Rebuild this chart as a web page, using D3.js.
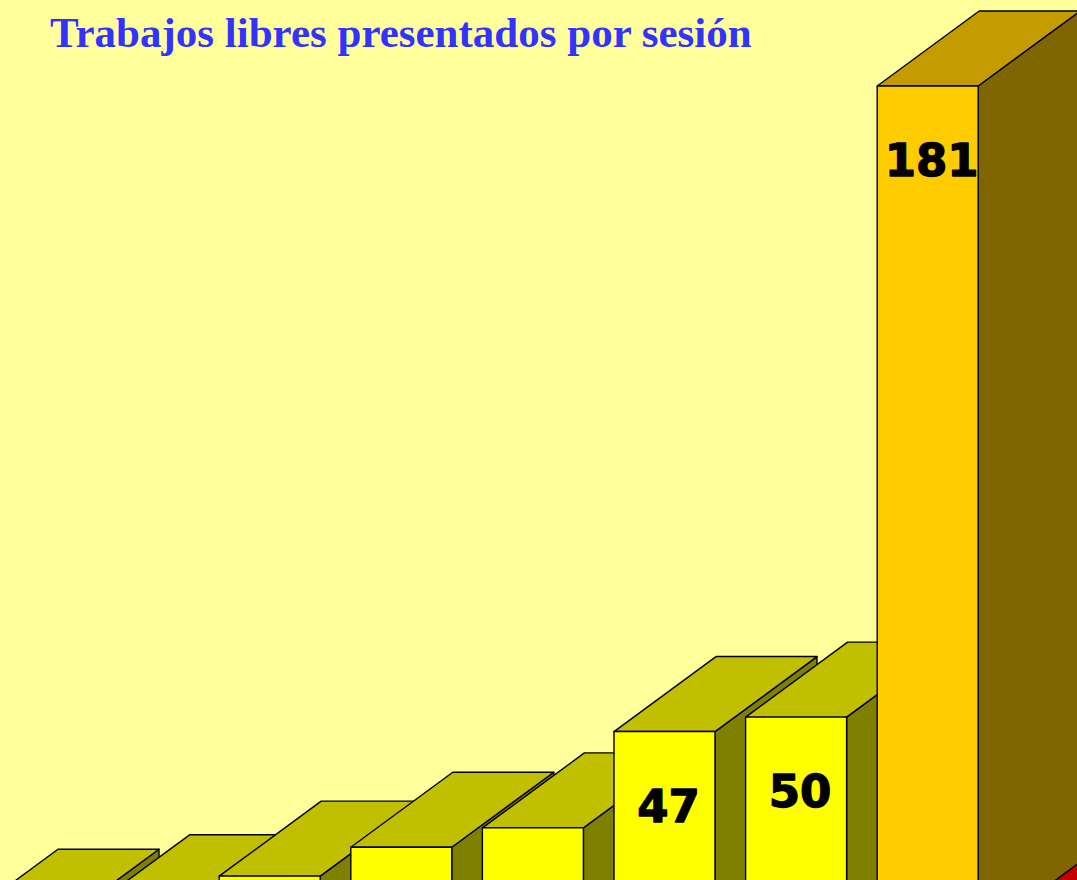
<!DOCTYPE html>
<html>
<head>
<meta charset="utf-8">
<script src="https://cdn.jsdelivr.net/npm/d3@7"></script>
<style>
  html, body { margin: 0; padding: 0; background: #FFFF9C; overflow: hidden; }
</style>
</head>
<body>
<div id="chart"></div>
<script>
// Data (bars are cut by the bottom edge).
const sessions = ["S1", "S2", "S3", "S4", "S5", "S6", "S7", "S8", "S9"];
const works = [7, 10, 17, 23, 27, 47, 50, 181, 9];
const titleText = "Trabajos libres presentados por sesión";

// Size of the page.
const width = 1077,
  height = 880;

// 3D depth offset of every bar.
const depth = { dx: 102, dy: -75 };

const svg = d3.select("#chart")
  .append("svg")
  .attr("width", width)
  .attr("height", height);

svg.append("rect")
  .attr("width", width)
  .attr("height", height)
  .attr("fill", "#FFFF9C");

// Scales.
const x = d3.scaleBand()
  .domain(sessions)
  .range([-59.3, -59.3 + sessions.length * 131.6])
  .paddingInner(30.6 / 131.6)
  .paddingOuter(15.3 / 131.6);

const y = d3.scaleLinear()
  .domain([0, 181])
  .range([958, 86]);

// Face colours: front, top, side.
const palette = {
  yellow: ["#FFFF00", "#C0C000", "#808000"],
  orange: ["#FFCC00", "#C49C00", "#806600"],
  red: ["#FF0000", "#C40000", "#800000"]
};
const barColor = d3.scaleOrdinal()
  .domain(sessions)
  .range(["yellow", "yellow", "yellow", "yellow", "yellow", "yellow", "yellow", "orange", "red"]);

const data = sessions.map((s, i) => ({ session: s, value: works[i] }));

const bars = svg.selectAll("g.bar")
  .data(data)
  .join("g")
  .attr("class", "bar")
  .attr("stroke", "#000")
  .attr("stroke-width", 1.4)
  .attr("stroke-linejoin", "round");

const base = y(0);
const w = x.bandwidth();

// Side face.
bars.append("path")
  .attr("fill", d => palette[barColor(d.session)][2])
  .attr("d", d => {
    const x0 = x(d.session) + w, y0 = y(d.value);
    return `M${x0},${y0}L${x0 + depth.dx},${y0 + depth.dy}L${x0 + depth.dx},${base + depth.dy}L${x0},${base}Z`;
  });

// Top face.
bars.append("path")
  .attr("fill", d => palette[barColor(d.session)][1])
  .attr("d", d => {
    const x0 = x(d.session), y0 = y(d.value);
    return `M${x0},${y0}L${x0 + depth.dx},${y0 + depth.dy}L${x0 + w + depth.dx},${y0 + depth.dy}L${x0 + w},${y0}Z`;
  });

// Front face.
bars.append("rect")
  .attr("fill", d => palette[barColor(d.session)][0])
  .attr("x", d => x(d.session))
  .attr("y", d => y(d.value))
  .attr("width", w)
  .attr("height", d => base - y(d.value));

// Value labels inside the bars (only those that fall inside the page).
bars.filter(d => y(d.value) + 90 < height)
  .append("text")
  .attr("stroke", "#000")
  .attr("stroke-width", 1.3)
  .attr("fill", "#000")
  .attr("x", d => x(d.session) + w / 2 + 4)
  .attr("y", d => y(d.value) + 90)
  .attr("text-anchor", "middle")
  .style("font-family", "'DejaVu Sans', sans-serif")
  .style("font-weight", "bold")
  .style("font-size", "45px")
  .text(d => d.value);

// Title.
svg.append("text")
  .attr("x", 50)
  .attr("y", 47)
  .attr("fill", "#3333FF")
  .style("font-family", "'Liberation Serif', 'Times New Roman', serif")
  .style("font-weight", "bold")
  .style("font-size", "43px")
  .text(titleText);
</script>
</body>
</html>
